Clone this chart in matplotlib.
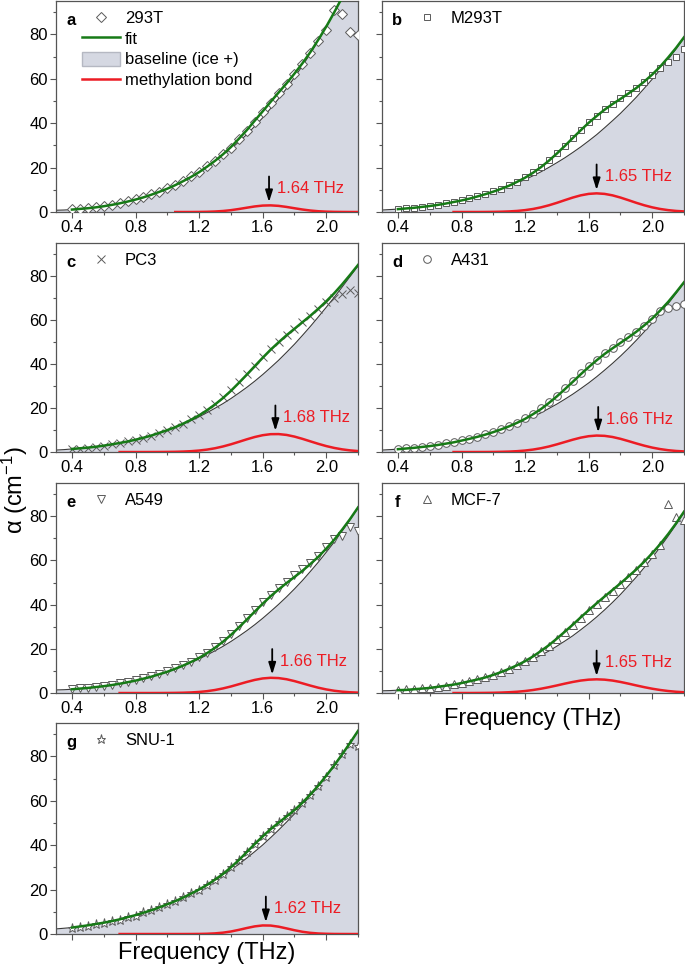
import numpy as np
import matplotlib
matplotlib.use("Agg")
from matplotlib import pyplot as plt
from matplotlib.lines import Line2D
from matplotlib.patches import Patch
from matplotlib.ticker import FormatStrFormatter

plt.rcParams["font.family"] = ["Liberation Sans", "DejaVu Sans"]
plt.rcParams["mathtext.fontset"] = "custom"
plt.rcParams["mathtext.rm"] = "Liberation Sans"
plt.rcParams["mathtext.it"] = "Liberation Sans:italic"

# frequency grid (THz), curves from 0.30, measured points from 0.40
freq = [0.30, 0.35, 0.40, 0.45, 0.50, 0.55, 0.60, 0.65, 0.70, 0.75,
        0.80, 0.85, 0.90, 0.95, 1.00, 1.05, 1.10, 1.15, 1.20, 1.25,
        1.30, 1.35, 1.40, 1.45, 1.50, 1.55, 1.60, 1.65, 1.70, 1.75,
        1.80, 1.85, 1.90, 1.95, 2.00, 2.05, 2.10, 2.15, 2.20]
meas_freq = freq[2:]

# a - 293T
base_293T = [0.8, 0.9, 1.1, 1.4, 1.7, 2.1, 2.6, 3.2, 3.9, 4.7, 5.6, 6.6, 7.8, 9.1, 10.5,
             12.1, 13.9, 15.8, 17.9, 20.3, 22.8, 25.5, 28.4, 31.6, 34.9, 38.6, 42.4, 46.6,
             51.0, 55.6, 60.6, 65.8, 71.3, 77.2, 83.3, 89.8, 96.6, 103.8, 111.3]
peak_293T = [None] * 15 + [0.0, 0.0, 0.01, 0.04, 0.10, 0.23, 0.46, 0.83, 1.35, 1.94, 2.51,
                           2.90, 2.99, 2.77, 2.29, 1.70, 1.13, 0.67, 0.35, 0.17, 0.07, 0.03,
                           0.01, 0.0]
meas_293T = [1.3, 1.5, 1.9, 2.2, 2.8, 3.3, 4.1, 4.8, 5.8, 6.7, 8.0, 9.2, 10.7, 12.3, 14.0,
             16.0, 18.0, 20.5, 23.0, 26.1, 29.0, 32.8, 36.5, 40.6, 44.8, 49.2, 53.4, 57.5,
             62.0, 66.6, 71.4, 76.8, 82.0, 91.0, 89.0, 81.0, 79.5]

# b - M293T
base_M293T = [0.9, 1.1, 1.3, 1.6, 1.9, 2.3, 2.7, 3.2, 3.8, 4.5, 5.2, 6.0, 7.0, 8.0, 9.1,
              10.3, 11.6, 13.1, 14.6, 16.3, 18.1, 20.1, 22.2, 24.4, 26.8, 29.3, 32.0, 34.8,
              37.9, 41.1, 44.4, 48.0, 51.7, 55.7, 59.8, 64.1, 68.7, 73.4, 78.4]
peak_M293T = [None] * 9 + [0.0, 0.0, 0.01, 0.01, 0.03, 0.07, 0.14, 0.27, 0.49, 0.85, 1.37,
                           2.10, 3.03, 4.13, 5.34, 6.51, 7.50, 8.16, 8.40, 8.16, 7.50, 6.51,
                           5.34, 4.13, 3.03, 2.10, 1.37, 0.85, 0.49, 0.27]
meas_M293T = [1.4, 1.6, 2.0, 2.3, 2.8, 3.3, 3.9, 4.6, 5.3, 6.1, 7.1, 8.1, 9.3, 10.5, 12.0,
              13.7, 15.6, 17.9, 20.4, 23.3, 26.5, 29.9, 33.5, 37.0, 40.3, 43.4, 46.2, 48.7,
              51.1, 53.5, 56.0, 58.6, 61.5, 64.8, 67.5, 70.0, 73.5]

# c - PC3
base_PC3 = [0.9, 1.1, 1.4, 1.7, 2.0, 2.4, 2.9, 3.5, 4.1, 4.8, 5.6, 6.5, 7.5, 8.7, 9.9,
            11.2, 12.7, 14.3, 16.0, 17.9, 19.9, 22.0, 24.3, 26.8, 29.4, 32.2, 35.2, 38.4,
            41.7, 45.3, 49.0, 53.0, 57.1, 61.4, 65.8, 70.3, 75.0, 79.8, 84.6]
peak_PC3 = [None] * 8 + [0.0, 0.0, 0.0, 0.0, 0.01, 0.03, 0.06, 0.11, 0.22, 0.39, 0.68, 1.11,
                         1.72, 2.53, 3.51, 4.63, 5.78, 6.83, 7.65, 8.12, 8.16, 7.78, 7.02,
                         6.00, 4.86, 3.73, 2.71, 1.87, 1.22, 0.75, 0.44]
meas_PC3 = [1.2, 1.6, 1.9, 2.4, 2.8, 3.5, 4.0, 4.9, 5.6, 6.6, 7.5, 8.8, 9.9, 11.4, 12.9,
            14.8, 16.7, 19.1, 21.7, 24.8, 28.1, 31.7, 35.5, 39.3, 43.1, 46.7, 50.0, 53.1,
            56.0, 58.9, 61.8, 65.0, 68.0, 70.0, 72.0, 73.5, 72.5]

# d - A431
base_A431 = [0.9, 1.1, 1.3, 1.6, 1.9, 2.3, 2.7, 3.2, 3.8, 4.4, 5.2, 6.0, 6.9, 7.9, 9.0,
             10.2, 11.5, 12.9, 14.4, 16.1, 17.8, 19.8, 21.8, 24.0, 26.3, 28.8, 31.4, 34.2,
             37.2, 40.3, 43.6, 47.1, 50.8, 54.7, 58.7, 63.0, 67.4, 72.1, 76.9]
peak_A431 = [None] * 9 + [0.0, 0.0, 0.0, 0.01, 0.02, 0.05, 0.11, 0.21, 0.39, 0.68, 1.12,
                          1.73, 2.52, 3.49, 4.55, 5.61, 6.54, 7.20, 7.49, 7.36, 6.84, 6.01,
                          4.98, 3.90, 2.89, 2.02, 1.34, 0.83, 0.49, 0.28]
meas_A431 = [1.4, 1.7, 2.0, 2.4, 2.8, 3.3, 3.9, 4.6, 5.3, 6.1, 7.0, 8.0, 9.2, 10.4, 11.8,
             13.4, 15.3, 17.4, 19.8, 22.6, 25.6, 28.9, 32.3, 35.7, 39.0, 42.0, 44.8, 47.4,
             49.8, 52.2, 54.7, 57.4, 60.3, 64.0, 65.5, 66.5, 67.5]

# e - A549
base_A549 = [1.4, 1.5, 1.7, 2.0, 2.3, 2.7, 3.1, 3.6, 4.2, 4.9, 5.6, 6.5, 7.4, 8.5, 9.6,
             10.9, 12.3, 13.8, 15.4, 17.2, 19.1, 21.1, 23.3, 25.7, 28.2, 30.9, 33.8, 36.9,
             40.1, 43.5, 47.1, 50.9, 55.0, 59.2, 63.7, 68.3, 73.3, 78.4, 83.8]
peak_A549 = [None] * 8 + [0.0, 0.0, 0.0, 0.0, 0.0, 0.01, 0.03, 0.07, 0.14, 0.27, 0.49, 0.84,
                          1.37, 2.08, 2.96, 3.98, 5.01, 5.93, 6.60, 6.89, 6.76, 6.24, 5.40,
                          4.39, 3.36, 2.41, 1.63, 1.03, 0.61, 0.34, 0.18]
meas_A549 = [2.0, 2.1, 2.5, 2.8, 3.3, 3.8, 4.4, 5.1, 5.8, 6.7, 7.6, 8.7, 9.8, 11.1, 12.6,
             14.2, 16.1, 18.3, 20.8, 23.6, 26.7, 30.2, 33.8, 37.4, 41.0, 44.4, 47.5, 50.4,
             53.2, 56.0, 59.0, 62.2, 66.0, 69.5, 71.0, 75.0, 73.5]

# f - MCF-7
base_MCF7 = [1.0, 1.1, 1.3, 1.4, 1.7, 2.0, 2.3, 2.8, 3.3, 3.8, 4.5, 5.3, 6.1, 7.0, 8.1,
             9.3, 10.6, 12.0, 13.5, 15.2, 17.1, 19.0, 21.2, 23.5, 25.9, 28.6, 31.4, 34.4,
             37.6, 41.0, 44.6, 48.5, 52.5, 56.8, 61.3, 66.0, 71.0, 76.2, 81.7]
peak_MCF7 = [None] * 9 + [0.0, 0.01, 0.01, 0.03, 0.06, 0.11, 0.21, 0.36, 0.58, 0.91, 1.37,
                          1.95, 2.65, 3.43, 4.25, 5.01, 5.64, 6.05, 6.20, 6.05, 5.64, 5.01,
                          4.25, 3.43, 2.65, 1.95, 1.37, 0.91, 0.58, 0.36]
meas_MCF7 = [1.5, 1.6, 1.9, 2.1, 2.5, 2.9, 3.4, 4.0, 4.6, 5.4, 6.2, 7.2, 8.3, 9.5, 10.9,
             12.5, 14.3, 16.4, 18.8, 21.5, 24.3, 27.5, 30.7, 34.0, 37.4, 40.4, 43.3, 46.2,
             49.2, 52.3, 55.6, 59.3, 63.0, 67.0, 85.5, 79.5, 78.5]

# g - SNU-1
base_SNU1 = [2.3, 2.6, 2.9, 3.4, 3.9, 4.5, 5.1, 5.8, 6.6, 7.6, 8.5, 9.6, 10.7, 12.0, 13.4,
             14.8, 16.4, 18.2, 20.0, 22.0, 24.2, 26.4, 28.9, 31.4, 34.2, 37.1, 40.1, 43.4,
             46.8, 50.4, 54.1, 58.1, 62.3, 66.6, 71.2, 75.9, 80.9, 86.1, 91.5]
peak_SNU1 = [None] * 8 + [0.0, 0.0, 0.0, 0.0, 0.0, 0.0, 0.0, 0.0, 0.0, 0.01, 0.04, 0.12,
                          0.29, 0.61, 1.13, 1.87, 2.70, 3.44, 3.86, 3.81, 3.31, 2.53, 1.71,
                          1.01, 0.53, 0.24, 0.10, 0.03, 0.01, 0.0, 0.0]
meas_SNU1 = [2.7, 3.3, 3.8, 4.6, 5.0, 5.9, 6.5, 7.6, 8.3, 9.7, 10.6, 12.1, 13.3, 15.0, 16.5,
             18.3, 20.0, 22.3, 24.5, 27.2, 30.0, 33.4, 36.9, 40.6, 44.2, 47.3, 50.3, 53.0,
             56.0, 59.0, 62.5, 66.5, 70.8, 76.0, 81.0, 85.5, 84.5]

letters = ["a", "b", "c", "d", "e", "f", "g"]
samples = ["293T", "M293T", "PC3", "A431", "A549", "MCF-7", "SNU-1"]
peak_labels = [1.64, 1.65, 1.68, 1.66, 1.66, 1.65, 1.62]
bases = [base_293T, base_M293T, base_PC3, base_A431, base_A549, base_MCF7, base_SNU1]
peaks = [peak_293T, peak_M293T, peak_PC3, peak_A431, peak_A549, peak_MCF7, peak_SNU1]
meas = [meas_293T, meas_M293T, meas_PC3, meas_A431, meas_A549, meas_MCF7, meas_SNU1]

markers = ["D", "s", "x", "o", "v", "^", "*"]
msizes = [5, 5, 5.5, 5.5, 5.5, 5.5, 6.5]

fill_col = "#d5d8e2"
green = "#177a17"
red = "#ec1c24"
edge = "#5a5a5a"

# axes boxes (figure fraction)
lefts = [0.0818, 0.5577]
width = 0.4409
rows = [(0.7812, 0.2178), (0.5335, 0.2157), (0.2848, 0.2167), (0.0361, 0.2177)]

fig = plt.figure(figsize=(6.85, 9.69), dpi=100)

for i in range(7):
    row, col = divmod(i, 2)
    bottom, height = rows[row]
    ax = fig.add_axes([lefts[col], bottom, width, height])

    f = np.array(freq)
    b = np.array(bases[i], dtype=float)
    p = np.array(peaks[i], dtype=float)
    fit = b + np.nan_to_num(p)

    ax.fill_between(f, 0, b, color=fill_col, lw=0, zorder=1)
    ax.plot(f, b, color="#3a3a3a", lw=0.8, zorder=2)
    ax.plot(f, p, color=red, lw=1.8, zorder=3)
    ax.plot(meas_freq, meas[i], ls="none", marker=markers[i], ms=msizes[i],
            mfc="white", mec=edge, mew=0.7, zorder=4)
    ax.plot(f[2:], fit[2:], color=green, lw=1.8, zorder=5)

    # peak marker arrow and label
    top = np.nanmax(p)
    f0 = peak_labels[i]
    ax.annotate("", xy=(f0, top + 1.5), xytext=(f0, top + 13),
                arrowprops=dict(arrowstyle="-|>,head_length=0.7,head_width=0.22",
                                color="black", lw=1.3, shrinkA=0, shrinkB=0), zorder=6)
    ax.text(f0 + 0.05, top + 7.5, f"{f0:.2f} THz", color=red, fontsize=12,
            ha="left", va="center", zorder=6)

    ax.set_xlim(0.3, 2.2)
    ax.set_ylim(0, 95)
    ax.set_xticks([0.4, 0.8, 1.2, 1.6, 2.0])
    ax.set_xticks([0.6, 1.0, 1.4, 1.8, 2.2], minor=True)
    ax.set_yticks([0, 20, 40, 60, 80])
    ax.set_yticks([10, 30, 50, 70, 90], minor=True)
    ax.xaxis.set_major_formatter(FormatStrFormatter("%.1f"))
    ax.tick_params(which="both", direction="out", color="#555555", width=0.8,
                   labelsize=12, pad=2)
    ax.tick_params(which="major", length=4)
    ax.tick_params(which="minor", length=2.5)
    for s in ax.spines.values():
        s.set_color("#555555")
        s.set_linewidth(0.9)

    if col == 1:
        ax.tick_params(labelleft=False)
    if i >= 5:
        ax.tick_params(labelbottom=False)
        ax.set_xlabel("Frequency (THz)", fontsize=17, labelpad=6 if i == 5 else 1)

    # legend
    handles = [Line2D([], [], ls="none", marker=markers[i], ms=msizes[i], mfc="white",
                      mec=edge, mew=0.7, label=samples[i])]
    if i == 0:
        handles += [Line2D([], [], color=green, lw=1.8, label="fit"),
                    Patch(facecolor=fill_col, edgecolor="#b5b8c2", label="baseline (ice +)"),
                    Line2D([], [], color=red, lw=1.8, label="methylation bond")]
    ax.legend(handles=handles, loc="upper left", bbox_to_anchor=(0.085, 0.955),
              frameon=False, borderpad=0, borderaxespad=0, handlelength=2.3,
              handleheight=0.9, handletextpad=0.3, labelspacing=0.3, fontsize=12,
              numpoints=1)
    ax.text(0.05, 0.906, letters[i], transform=ax.transAxes, fontsize=12,
            fontweight="bold", ha="center", va="center")

fig.text(0.022, 0.494, "α (cm$^{-1}$)", rotation=90, ha="center", va="center", fontsize=17)

fig.savefig("out.png", dpi=100)
